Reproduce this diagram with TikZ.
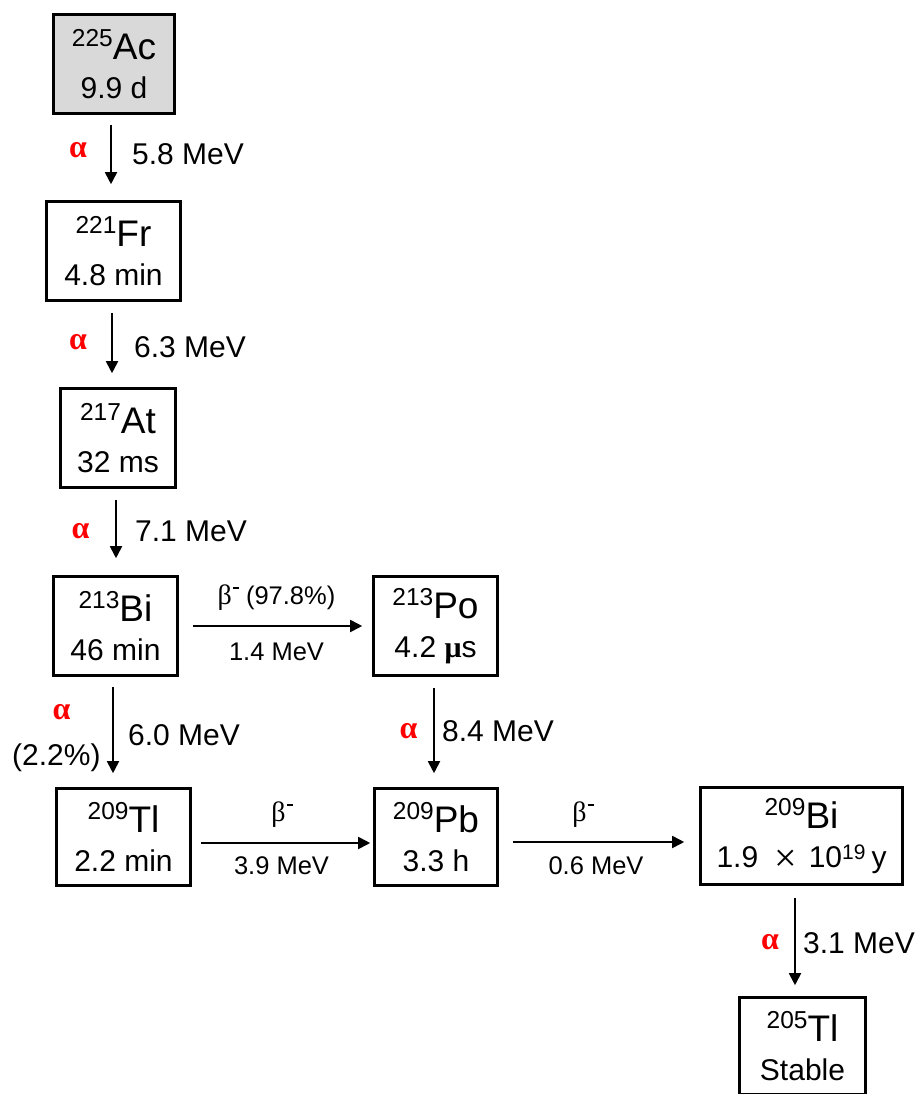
\documentclass[tikz,border=0pt]{standalone}
\usepackage{fontspec}
\setmainfont{Liberation Sans}
\newfontfamily\grk{Liberation Serif}
\usetikzlibrary{arrows.meta,calc}
\definecolor{acgray}{RGB}{217,217,217}
\definecolor{alred}{RGB}{255,0,0}
\newcommand\isoup[2]{{\fontsize{24.5}{24.5}\selectfont\raisebox{13pt}{#1}}{\fontsize{37}{37}\selectfont #2}}
\newcommand\bmin{\hspace{1pt}\raisebox{15pt}{\rule{6pt}{1.6pt}}}
\newcommand\gbeta{{\grk\fontsize{28}{28}\selectfont β}\bmin}
\begin{document}
\begin{tikzpicture}[x=1pt,y=-1pt,
  box/.style={draw, line width=2.6pt, inner sep=0pt, align=center, font=\fontsize{30}{39}\selectfont},
  arr/.style={line width=1.8pt, -{Triangle[length=12pt,width=12pt]}},
  alab/.style={text=alred, font=\grk\bfseries\fontsize{32}{32}\selectfont, inner sep=0pt},
  elab/.style={anchor=base west, inner sep=0pt, font=\fontsize{30}{30}\selectfont},
  slab/.style={anchor=base, inner sep=0pt, font=\fontsize{25.5}{25.5}\selectfont}]
\useasboundingbox (0,0) rectangle (919,1094);

% boxes
\node[box, fill=acgray, minimum width=121, minimum height=99] (ac) at (114,64) {\isoup{225}{Ac}\\9.9 d};
\node[box, minimum width=134, minimum height=99] (fr) at (113.5,251) {\isoup{221}{Fr}\\4.8 min};
\node[box, minimum width=115, minimum height=99] (at) at (118,438) {\isoup{217}{At}\\32 ms};
\node[box, minimum width=124, minimum height=99] (bi) at (115.5,626) {\isoup{213}{Bi}\\46 min};
\node[box, minimum width=124, minimum height=99] (po) at (435.5,626) {\isoup{213}{Po}\\4.2 {\grk\bfseries μ}s};
\node[box, minimum width=134, minimum height=97] (tl) at (123.5,837) {\isoup{209}{Tl}\\2.2 min};
\node[box, minimum width=123, minimum height=97] (pb) at (436,837) {\isoup{209}{Pb}\\3.3 h};
\node[box, minimum width=202, minimum height=97] (bb) at (801.5,836) {\isoup{209}{Bi}\\1.9\hspace{16pt}\smash{\raisebox{-4pt}{\grk\fontsize{40}{40}\selectfont ×}}\hspace{12pt}10\raisebox{8pt}{\fontsize{21}{21}\selectfont 19}\hspace{6pt}y};
\node[box, minimum width=126, minimum height=97] (tf) at (802.5,1046) {\isoup{205}{Tl}\\Stable};

% arrows
\draw[arr] ($(ac.south)+(-3,10)$) -- ($(ac.south |- fr.north)+(-3,-16)$);
\draw[arr] ($(fr.south)+(-1.5,11)$) -- ($(fr.south |- at.north)+(-1.5,-14)$);
\draw[arr] ($(at.south)+(-2,11)$) -- ($(at.south |- bi.north)+(-2,-17)$);
\draw[arr] ($(bi.east)+(14,0)$) -- ($(po.west)+(-10,0)$);
\draw[arr] ($(bi.south)+(-2.5,10)$) -- ($(bi.south |- tl.north)+(-2.5,-14)$);
\draw[arr] ($(po.south)+(-1.5,11)$) -- ($(po.south |- pb.north)+(-1.5,-14)$);
\draw[arr] ($(tl.east)+(9,6)$) -- ($(tl.east -| pb.west)+(-3,6)$);
\draw[arr] ($(pb.east)+(14,5)$) -- ($(pb.east -| bb.west)+(-15,5)$);
\draw[arr] ($(bb.south)+(-6.5,12)$) -- ($(bb.south |- tf.north)+(-6.5,-11)$);

% alpha labels
\node[alab] (a1) at (78,150) {α};
\node[alab] (a2) at (78,342) {α};
\node[alab] (a3) at (80.5,531) {α};
\node[alab] (a4) at (61.5,712) {α};
\node[alab] (a5) at (408.5,731) {α};
\node[alab] (a6) at (770,942) {α};

% energy labels
\node[elab] (e1) at (132,165) {5.8 MeV};
\node[elab] (e2) at (134,357) {6.3 MeV};
\node[elab] (e3) at (135,541) {7.1 MeV};
\node[elab] (e4) at (128,745) {6.0 MeV};
\node[elab] (e5) at (12,765) {(2.2\%)};
\node[elab] (e6) at (442,741) {8.4 MeV};
\node[elab] (e7) at (803,953) {3.1 MeV};

% beta labels
\node[slab] (b1) at (276.5,604) {\gbeta\ (97.8\%)};
\node[slab] (m1) at (276.5,660) {1.4 MeV};
\node[slab] (b2) at (282,821) {\gbeta};
\node[slab] (m2) at (281.5,874) {3.9 MeV};
\node[slab] (b3) at (583,821) {\gbeta};
\node[slab] (m3) at (596,874) {0.6 MeV};
\end{tikzpicture}
\end{document}
